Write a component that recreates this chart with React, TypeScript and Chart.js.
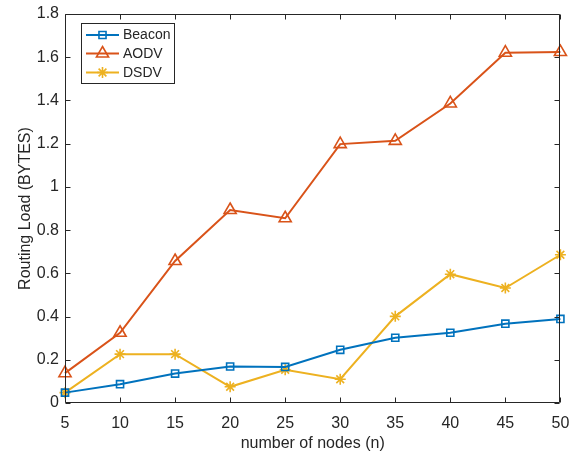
import React, { useEffect, useRef } from "react";
import { Chart, registerables } from "chart.js";
import { drawPoint } from "chart.js/helpers";

Chart.register(...registerables);

const nodes = [5, 10, 15, 20, 25, 30, 35, 40, 45, 50];
const beacon = [0.048, 0.087, 0.136, 0.169, 0.167, 0.246, 0.302, 0.325, 0.367, 0.389];
const aodv = [0.138, 0.325, 0.657, 0.893, 0.855, 1.198, 1.213, 1.386, 1.621, 1.624];
const dsdv = [0.048, 0.226, 0.226, 0.075, 0.154, 0.11, 0.401, 0.596, 0.532, 0.686];
const xTicks = [5, 10, 15, 20, 25, 30, 35, 40, 45, 50];
const yTicks = [0, 0.2, 0.4, 0.6, 0.8, 1, 1.2, 1.4, 1.6, 1.8];

const seriesNames = ["Beacon", "AODV", "DSDV"];
const seriesColors = ["#0072BD", "#D95319", "#EDB120"];
const seriesStyles = ["rect", "triangle", "star"];
const seriesRadius = [5, 7, 5.5];

const AXIS = "#262626";
const FONT = "'Liberation Sans', Arial, Helvetica, sans-serif";

const matlabAxes = {
  id: "matlabAxes",
  afterDatasetsDraw(chart: any) {
    const { ctx, chartArea } = chart;
    const x = chart.scales.x;
    const y = chart.scales.y;
    const L = Math.round(chartArea.left) + 0.5;
    const R = Math.round(chartArea.right) - 0.5;
    const T = Math.round(chartArea.top) + 0.5;
    const B = Math.round(chartArea.bottom) - 0.5;
    ctx.save();
    ctx.strokeStyle = AXIS;
    ctx.lineWidth = 1;
    ctx.beginPath();
    ctx.rect(L, T, R - L, B - T);
    ctx.stroke();
    const len = 5;
    ctx.beginPath();
    xTicks.forEach((v) => {
      const px = Math.round(x.getPixelForValue(v)) + 0.5;
      ctx.moveTo(px, B);
      ctx.lineTo(px, B - len);
      ctx.moveTo(px, T);
      ctx.lineTo(px, T + len);
    });
    yTicks.forEach((v) => {
      const py = Math.round(y.getPixelForValue(v)) + 0.5;
      ctx.moveTo(L, py);
      ctx.lineTo(L + len, py);
      ctx.moveTo(R, py);
      ctx.lineTo(R - len, py);
    });
    ctx.stroke();
    ctx.restore();
  },
  afterDraw(chart: any) {
    const { ctx } = chart;
    const bx = 81.5, by = 23.5, bw = 93, bh = 60;
    ctx.save();
    ctx.fillStyle = "#ffffff";
    ctx.fillRect(bx, by, bw, bh);
    ctx.strokeStyle = AXIS;
    ctx.lineWidth = 1;
    ctx.strokeRect(bx, by, bw, bh);
    const rows = [35, 53.5, 72.5];
    chart.data.datasets.forEach((ds: any, i: number) => {
      const yy = rows[i];
      ctx.strokeStyle = ds.borderColor;
      ctx.lineWidth = 2;
      ctx.beginPath();
      ctx.moveTo(86, yy);
      ctx.lineTo(119, yy);
      ctx.stroke();
      ctx.fillStyle = "rgba(0,0,0,0)";
      ctx.strokeStyle = ds.borderColor;
      ctx.lineWidth = ds.pointBorderWidth;
      drawPoint(ctx, { pointStyle: ds.pointStyle, rotation: 0, radius: ds.pointRadius, borderWidth: ds.pointBorderWidth }, 102.5, yy);
      ctx.fillStyle = AXIS;
      ctx.font = `14px ${FONT}`;
      ctx.textBaseline = "middle";
      ctx.textAlign = "left";
      ctx.fillText(ds.label, 123, yy + 0.5);
    });
    ctx.restore();
  },
};

export default function App() {
  const ref = useRef<HTMLCanvasElement | null>(null);
  useEffect(() => {
    if (!ref.current) return;
    const all = [beacon, aodv, dsdv];
    const chart = new Chart(ref.current, {
      type: "line",
      data: {
        datasets: all.map((vals, i) => ({
          label: seriesNames[i],
          data: nodes.map((n, j) => ({ x: n, y: vals[j] })),
          borderColor: seriesColors[i],
          backgroundColor: "rgba(0,0,0,0)",
          pointBackgroundColor: "rgba(0,0,0,0)",
          pointBorderColor: seriesColors[i],
          pointStyle: seriesStyles[i] as any,
          pointRadius: seriesRadius[i],
          pointBorderWidth: 1.6,
          borderWidth: 2,
          tension: 0,
          clip: false as any,
        })),
      },
      options: {
        animation: false,
        responsive: false,
        devicePixelRatio: 1,
        layout: { padding: { top: 14, right: 7, left: 0, bottom: 0 } },
        plugins: { legend: { display: false }, tooltip: { enabled: false } },
        scales: {
          x: {
            type: "linear",
            min: 5,
            max: 50,
            grid: { display: false, drawTicks: false, tickLength: 0 },
            border: { display: false },
            afterBuildTicks: (s: any) => {
              s.ticks = xTicks.map((v) => ({ value: v }));
            },
            afterFit: (s: any) => {
              s.height = 50;
              s.paddingLeft = 0;
              s.paddingRight = 0;
            },
            ticks: {
              color: AXIS,
              font: { family: FONT, size: 16 },
              padding: 11,
              maxRotation: 0,
              autoSkip: false,
              callback: (v: any) => String(v),
            },
            title: {
              display: true,
              text: "number of nodes (n)",
              color: AXIS,
              font: { family: FONT, size: 16 },
              padding: { top: 0, bottom: 0 },
            },
          },
          y: {
            type: "linear",
            min: 0,
            max: 1.8,
            grid: { display: false, drawTicks: false, tickLength: 0 },
            border: { display: false },
            afterBuildTicks: (s: any) => {
              s.ticks = yTicks.map((v) => ({ value: v }));
            },
            afterFit: (s: any) => {
              s.width = 65;
              s.paddingTop = 0;
              s.paddingBottom = 0;
            },
            ticks: {
              color: AXIS,
              font: { family: FONT, size: 16 },
              padding: 6,
              autoSkip: false,
              callback: (v: any) => String(Number(Number(v).toFixed(1))),
            },
            title: {
              display: true,
              text: "Routing Load (BYTES)",
              color: AXIS,
              font: { family: FONT, size: 16 },
              padding: { top: 16, bottom: 0 },
            },
          },
        },
      },
      plugins: [matlabAxes],
    });
    return () => chart.destroy();
  }, []);
  return (
    <div style={{ position: "fixed", left: 0, top: 0, width: 569, height: 453, background: "#fff" }}>
      <canvas ref={ref} width={569} height={453} style={{ width: 569, height: 453 }} />
    </div>
  );
}
